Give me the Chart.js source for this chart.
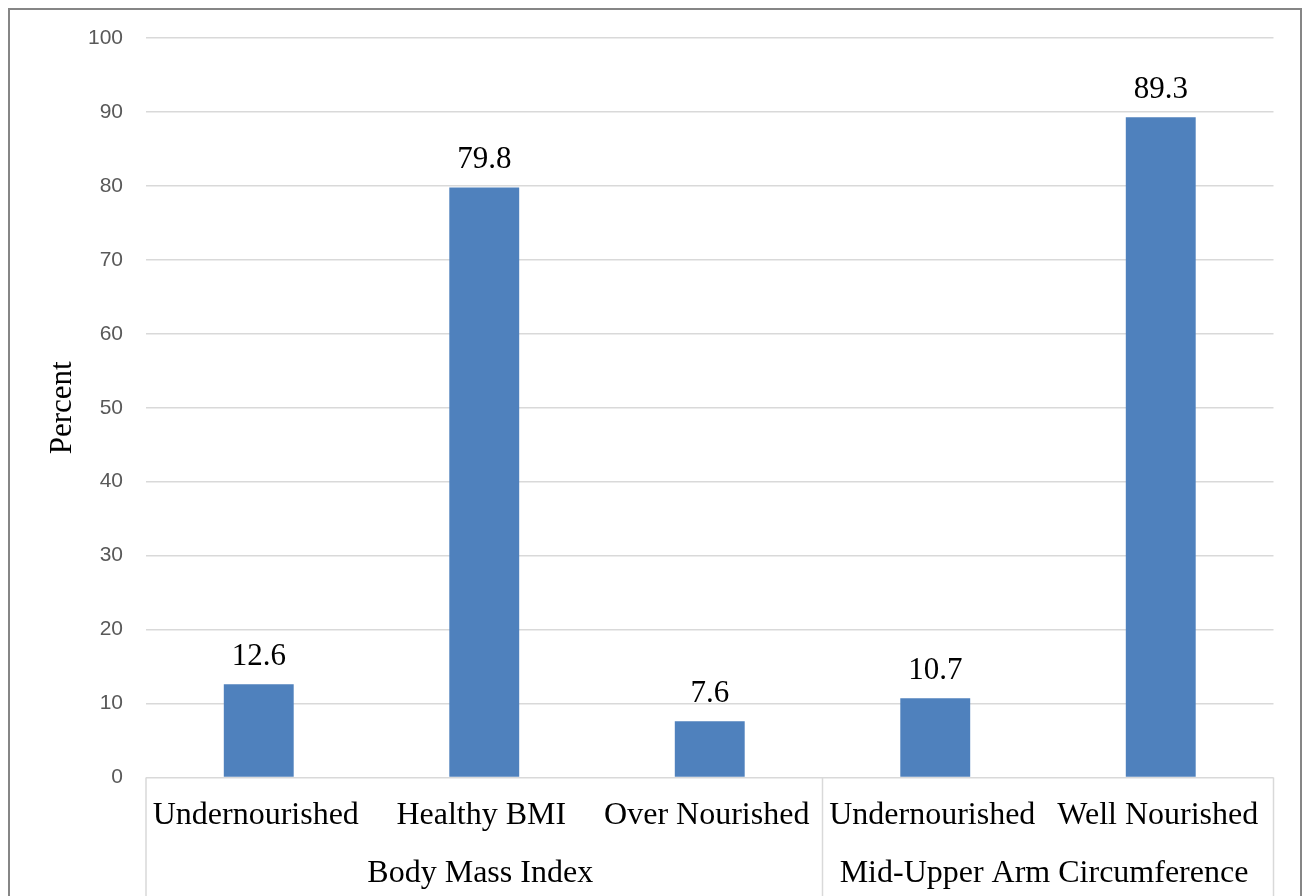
<!DOCTYPE html>
<html>
<head>
<meta charset="utf-8">
<script src="https://cdn.jsdelivr.net/npm/chart.js@4/dist/chart.umd.min.js"></script>
<style>
  html, body { margin: 0; padding: 0; background: #ffffff; }
  #chart { display: block; }
</style>
</head>
<body>
<canvas id="chart" width="1304" height="896"></canvas>
<script>
// Nutritional status categories and their percentages
const categories = ['Undernourished', 'Healthy BMI', 'Over Nourished', 'Undernourished', 'Well Nourished'];
const percentValues = [12.6, 79.8, 7.6, 10.7, 89.3];

// Outer grouping of the categories (name and how many categories it spans)
const groupNames = ['Body Mass Index', 'Mid-Upper Arm Circumference'];
const groupSizes = [3, 2];

// Value axis ticks
const yMin = 0;
const yMax = 100;
const yStep = 10;

const serif = "'Liberation Serif', 'Times New Roman', serif";
const sans = "'Liberation Sans', Arial, sans-serif";
const gridColor = '#d9d9d9';

// Draws the frame around the whole figure
const framePlugin = {
  id: 'frame',
  beforeDraw(chart) {
    const ctx = chart.ctx;
    ctx.save();
    ctx.fillStyle = '#ffffff';
    ctx.fillRect(0, 0, chart.width, chart.height);
    ctx.strokeStyle = '#868686';
    ctx.lineWidth = 2;
    ctx.strokeRect(9, 9, 1292, chart.height + 40);
    ctx.restore();
  }
};

// Value labels printed above each bar
const valueLabelPlugin = {
  id: 'valueLabels',
  afterDatasetsDraw(chart) {
    const ctx = chart.ctx;
    const meta = chart.getDatasetMeta(0);
    const data = chart.data.datasets[0].data;
    ctx.save();
    ctx.font = '31px ' + serif;
    ctx.fillStyle = '#000000';
    ctx.textAlign = 'center';
    ctx.textBaseline = 'alphabetic';
    meta.data.forEach((bar, i) => {
      ctx.fillText(data[i].toFixed(1), bar.x, bar.y - 19);
    });
    ctx.restore();
  }
};

// Second level of the category axis: group separators and group names
const groupAxisPlugin = {
  id: 'groupAxis',
  afterDraw(chart) {
    const ctx = chart.ctx;
    const x = chart.scales.x;
    const area = chart.chartArea;
    const bottom = chart.height;
    const edges = [area.left];
    let idx = 0;
    groupSizes.forEach((size, g) => {
      const last = idx + size - 1;
      if (g < groupSizes.length - 1) {
        edges.push((x.getPixelForValue(last) + x.getPixelForValue(last + 1)) / 2);
      } else {
        edges.push(area.right);
      }
      idx += size;
    });
    ctx.save();
    ctx.strokeStyle = gridColor;
    ctx.lineWidth = 1.5;
    edges.forEach(px => {
      ctx.beginPath();
      ctx.moveTo(px, area.bottom);
      ctx.lineTo(px, bottom);
      ctx.stroke();
    });
    ctx.font = '32px ' + serif;
    ctx.fillStyle = '#000000';
    ctx.textAlign = 'center';
    ctx.textBaseline = 'alphabetic';
    groupNames.forEach((name, g) => {
      ctx.fillText(name, (edges[g] + edges[g + 1]) / 2 - 4, 882);
    });
    ctx.restore();
  }
};

new Chart(document.getElementById('chart'), {
  type: 'bar',
  data: {
    labels: categories,
    datasets: [{
      data: percentValues,
      backgroundColor: '#4f81bd',
      borderWidth: 0,
      categoryPercentage: 1,
      barPercentage: 0.31
    }]
  },
  options: {
    responsive: false,
    animation: false,
    layout: { padding: { top: 38, right: 30.5, bottom: 0, left: 0 } },
    plugins: {
      legend: { display: false },
      tooltip: { enabled: false }
    },
    scales: {
      x: {
        grid: { display: false, drawTicks: false },
        border: { display: false },
        ticks: {
          autoSkip: false,
          maxRotation: 0,
          minRotation: 0,
          padding: 19,
          labelOffset: -3,
          color: '#000000',
          font: { family: serif, size: 32 }
        },
        afterFit(scale) { scale.height = 118.5; }
      },
      y: {
        min: yMin,
        max: yMax,
        grid: { color: gridColor, lineWidth: 1.5, drawTicks: false },
        border: { display: false },
        ticks: {
          stepSize: yStep,
          padding: 23,
          color: '#595959',
          font: { family: sans, size: 21 }
        },
        title: {
          display: true,
          text: 'Percent',
          color: '#000000',
          font: { family: serif, size: 31 },
          padding: { top: 44, bottom: 0 }
        },
        afterFit(scale) { scale.width = 146; }
      }
    }
  },
  plugins: [framePlugin, valueLabelPlugin, groupAxisPlugin]
});
</script>
</body>
</html>
